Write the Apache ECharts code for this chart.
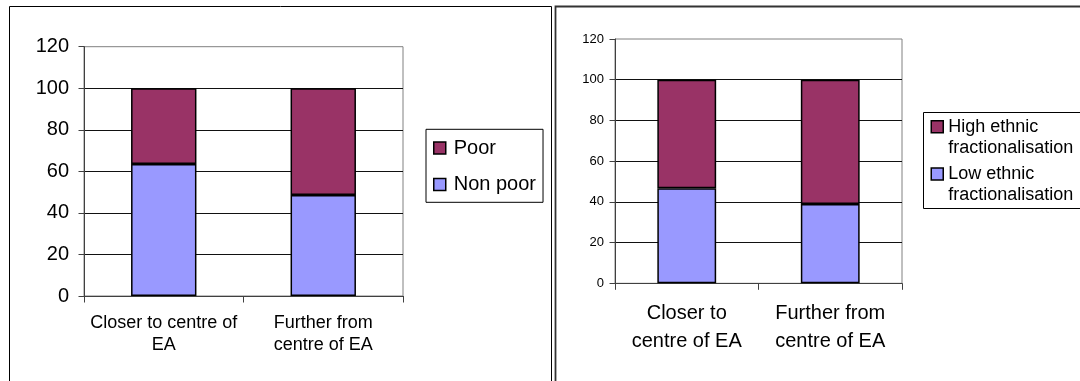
<!DOCTYPE html>
<html><head><meta charset="utf-8">
<script src="https://cdn.jsdelivr.net/npm/echarts@6/dist/echarts.min.js"></script>
<style>html,body{margin:0;padding:0;background:#fff}#c{width:1080px;height:381px}</style>
</head><body><div id="c"></div>
<script>
// ---- data ----
const leftCategories = ['Closer to centre of\nEA', 'Further from\ncentre of EA'];
const leftSeriesNames = ['Non poor', 'Poor'];
const leftNonPoor = [63.5, 48.6];
const leftPoor = [36.5, 51.4];

const rightCategories = ['Closer to\ncentre of EA', 'Further from\ncentre of EA'];
const rightSeriesNames = ['Low ethnic\nfractionalisation', 'High ethnic\nfractionalisation'];
const rightLow = [46.7, 39.0];
const rightHigh = [53.3, 61.0];

const yMin = 0, yMax = 120, yStep = 20;

const colLow = '#9999FF', colHigh = '#993366';
const FONT = "'Liberation Sans', Arial, sans-serif";

function yAxisCfg(gi, fs, margin) {
  return {
    type: 'value', gridIndex: gi, min: yMin, max: yMax, interval: yStep,
    axisLine: { show: true, lineStyle: { color: '#404040', width: 1 } },
    axisTick: { show: true, length: 5.5, lineStyle: { color: '#404040' } },
    axisLabel: { color: '#000', fontSize: fs, fontFamily: FONT, margin: margin },
    splitLine: { show: true, showMaxLine: false, lineStyle: { color: '#111', width: 1 } }
  };
}
function xAxisCfg(gi, cats, fs, lh, margin) {
  return {
    type: 'category', gridIndex: gi, data: cats,
    axisLine: { show: true, lineStyle: { color: '#404040', width: 1 } },
    axisTick: { show: true, length: 6.5, alignWithLabel: false, lineStyle: { color: '#404040' } },
    axisLabel: { color: '#000', fontSize: fs, lineHeight: lh, fontFamily: FONT, margin: margin, interval: 0 },
    splitLine: { show: false }
  };
}
function barSeries(name, data, color, gi) {
  return {
    type: 'bar', name: name, data: data, stack: 's' + gi,
    xAxisIndex: gi, yAxisIndex: gi, barWidth: '41%',
    itemStyle: { color: color, borderColor: '#000', borderWidth: 1.5 },
    emphasis: { disabled: true }, animation: false
  };
}

const chart = echarts.init(document.getElementById('c'), null, { renderer: 'canvas' });
chart.setOption({
  animation: false,
  backgroundColor: '#fff',
  grid: [
    { left: 84, top: 46.7, width: 319, height: 249.3, show: true, borderColor: '#808080', borderWidth: 1, backgroundColor: 'transparent' },
    { left: 615, top: 39, width: 287, height: 244.3, show: true, borderColor: '#808080', borderWidth: 1, backgroundColor: 'transparent' }
  ],
  xAxis: [
    xAxisCfg(0, leftCategories, 18, 22, 16.5),
    xAxisCfg(1, rightCategories, 20, 28, 16)
  ],
  yAxis: [
    yAxisCfg(0, 20, 15),
    yAxisCfg(1, 13, 11)
  ],
  legend: [
    {
      data: [leftSeriesNames[1], leftSeriesNames[0]], orient: 'vertical',
      left: 426, top: 129.3, padding: [8.7, 7, 7.8, 7],
      borderColor: '#000', borderWidth: 1, backgroundColor: '#fff',
      itemWidth: 12, itemHeight: 12, itemGap: 16.5,
      icon: 'rect', itemStyle: { borderColor: '#000', borderWidth: 1.5 },
      textStyle: { color: '#000', fontSize: 20, lineHeight: 20, fontFamily: FONT, padding: [0, 0, 0, 3] },
      selectedMode: false
    },
    {
      data: [rightSeriesNames[1], rightSeriesNames[0]], orient: 'vertical',
      left: 930.5, top: 95.2, padding: 0,
      itemWidth: 12, itemHeight: 12, itemGap: -15.7,
      icon: 'rect', itemStyle: { borderColor: '#000', borderWidth: 1.5 },
      formatter: function (name) { return '\n' + name; },
      textStyle: { color: '#000', fontSize: 18, lineHeight: 21, fontFamily: FONT },
      selectedMode: false
    }
  ],
  graphic: [
    { type: 'rect', silent: true, z: 0, shape: { x: 9.5, y: 6.5, width: 542, height: 420 }, style: { fill: 'none', stroke: '#000', lineWidth: 1 } },
    { type: 'rect', silent: true, z: 0, shape: { x: 555.5, y: 6.5, width: 560, height: 420 }, style: { fill: 'none', stroke: '#333', lineWidth: 1.8 } },
    { type: 'rect', silent: true, z: 0, shape: { x: 923.5, y: 112.5, width: 200, height: 96 }, style: { fill: '#fff', stroke: '#000', lineWidth: 1 } }
  ],
  series: [
    barSeries(leftSeriesNames[0], leftNonPoor, colLow, 0),
    barSeries(leftSeriesNames[1], leftPoor, colHigh, 0),
    barSeries(rightSeriesNames[0], rightLow, colLow, 1),
    barSeries(rightSeriesNames[1], rightHigh, colHigh, 1)
  ]
});
</script>
</body></html>
